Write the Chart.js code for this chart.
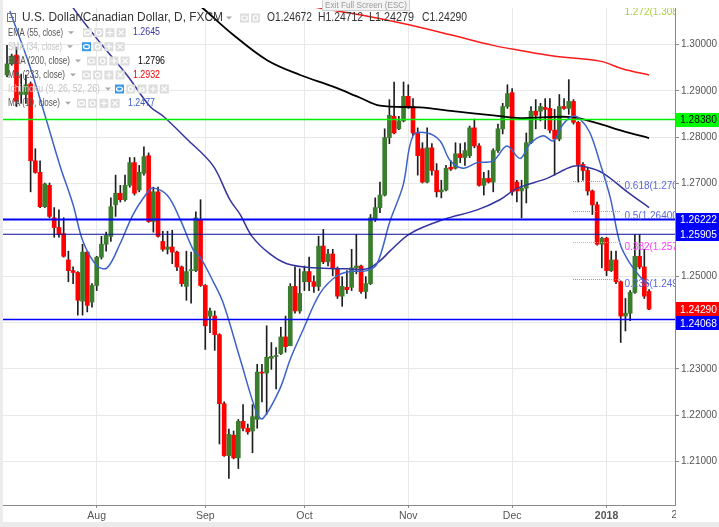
<!DOCTYPE html>
<html>
<head>
<meta charset="utf-8">
<script src="https://cdn.jsdelivr.net/npm/chart.js@4.4.1/dist/chart.umd.min.js"></script>
<style>
  html, body { margin: 0; padding: 0; background: #fff; }
  canvas { display: block; }
</style>
</head>
<body>
<canvas id="chart" width="719" height="527"></canvas>
<script>
// USD/CAD daily candles, 5 Jul 2017 .. 12 Jan 2018 (x = bar number)
const opens = [
  1.2934, 1.2958, 1.2977, 1.2892, 1.2892, 1.2915, 1.2749, 1.2724, 1.2650, 1.2696,
  1.2626, 1.2605, 1.2592, 1.2535, 1.2512, 1.2508, 1.2446, 1.2552, 1.2444, 1.2480,
  1.2541, 1.2569, 1.2586, 1.2654, 1.2679, 1.2665, 1.2696, 1.2745, 1.2686, 1.2722,
  1.2760, 1.2618, 1.2682, 1.2575, 1.2558, 1.2563, 1.2552, 1.2520, 1.2478, 1.2512,
  1.2512, 1.2622, 1.2480, 1.2414, 1.2414, 1.2374, 1.2225, 1.2113, 1.2157, 1.2108,
  1.2187, 1.2172, 1.2166, 1.2191, 1.2293, 1.2291, 1.2323, 1.2327, 1.2333, 1.2369,
  1.2350, 1.2478, 1.2425, 1.2488, 1.2510, 1.2488, 1.2478, 1.2565, 1.2531, 1.2548,
  1.2516, 1.2457, 1.2476, 1.2476, 1.2518, 1.2522, 1.2467, 1.2484, 1.2622, 1.2648,
  1.2675, 1.2799, 1.2845, 1.2818, 1.2835, 1.2888, 1.2866, 1.2809, 1.2775, 1.2703,
  1.2777, 1.2728, 1.2682, 1.2686, 1.2735, 1.2733, 1.2764, 1.2756, 1.2760, 1.2820,
  1.2781, 1.2696, 1.2711, 1.2703, 1.2771, 1.2818, 1.2866, 1.2896, 1.2703, 1.2684,
  1.2690, 1.2788, 1.2856, 1.2856, 1.2864, 1.2862, 1.2815, 1.2796, 1.2866, 1.2862,
  1.2877, 1.2832, 1.2741, 1.2728, 1.2684, 1.2654, 1.2569, 1.2582, 1.2512, 1.2535,
  1.2488, 1.2414, 1.2420, 1.2465, 1.2543, 1.2520, 1.24672
];
const highs = [
  1.2998, 1.2979, 1.2994, 1.2936, 1.2934, 1.2919, 1.2775, 1.2749, 1.2701, 1.2701,
  1.2648, 1.2643, 1.2626, 1.2554, 1.2520, 1.2510, 1.2569, 1.2554, 1.2484, 1.2543,
  1.2586, 1.2595, 1.2669, 1.2718, 1.2696, 1.2718, 1.2756, 1.2756, 1.2739, 1.2779,
  1.2766, 1.2692, 1.2692, 1.2597, 1.2597, 1.2599, 1.2554, 1.2522, 1.2554, 1.2552,
  1.2639, 1.2665, 1.2482, 1.2431, 1.2425, 1.2376, 1.2229, 1.2170, 1.2166, 1.2191,
  1.2223, 1.2181, 1.2223, 1.2310, 1.2310, 1.2393, 1.2357, 1.2346, 1.2390, 1.2414,
  1.2484, 1.2520, 1.2516, 1.2522, 1.2541, 1.2501, 1.2586, 1.2601, 1.2558, 1.2558,
  1.2520, 1.2499, 1.2512, 1.2558, 1.2590, 1.2524, 1.2499, 1.2633, 1.2669, 1.2703,
  1.2818, 1.2881, 1.2919, 1.2845, 1.2919, 1.2913, 1.2883, 1.2820, 1.2788, 1.2820,
  1.2786, 1.2743, 1.2707, 1.2739, 1.2749, 1.2788, 1.2786, 1.2788, 1.2824, 1.2839,
  1.2786, 1.2724, 1.2728, 1.2775, 1.2828, 1.2873, 1.2913, 1.2905, 1.2707, 1.2707,
  1.2809, 1.2866, 1.2881, 1.2873, 1.2883, 1.2883, 1.2860, 1.2892, 1.2883, 1.2924,
  1.2881, 1.2834, 1.2745, 1.2735, 1.2686, 1.2660, 1.2584, 1.2584, 1.2554, 1.2554,
  1.2490, 1.2452, 1.2469, 1.2590, 1.2590, 1.2558, 1.24712
];
const lows = [
  1.2930, 1.2955, 1.2866, 1.2873, 1.2873, 1.2682, 1.2722, 1.2648, 1.2648, 1.2626,
  1.2584, 1.2584, 1.2541, 1.2488, 1.2484, 1.2416, 1.2416, 1.2423, 1.2433, 1.2469,
  1.2537, 1.2554, 1.2575, 1.2629, 1.2660, 1.2662, 1.2692, 1.2675, 1.2682, 1.2718,
  1.2616, 1.2595, 1.2584, 1.2554, 1.2548, 1.2527, 1.2512, 1.2478, 1.2448, 1.2442,
  1.2510, 1.2478, 1.2342, 1.2378, 1.2340, 1.2138, 1.2111, 1.2064, 1.2106, 1.2085,
  1.2166, 1.2159, 1.2119, 1.2172, 1.2229, 1.2202, 1.2299, 1.2257, 1.2331, 1.2336,
  1.2350, 1.2420, 1.2420, 1.2469, 1.2469, 1.2465, 1.2469, 1.2527, 1.2522, 1.2501,
  1.2452, 1.2435, 1.2463, 1.2469, 1.2505, 1.2463, 1.2452, 1.2482, 1.2618, 1.2637,
  1.2673, 1.2786, 1.2807, 1.2816, 1.2833, 1.2862, 1.2803, 1.2718, 1.2701, 1.2701,
  1.2718, 1.2671, 1.2669, 1.2684, 1.2728, 1.2731, 1.2745, 1.2739, 1.2756, 1.2777,
  1.2694, 1.2675, 1.2701, 1.2682, 1.2767, 1.2807, 1.2862, 1.2675, 1.2660, 1.2626,
  1.2658, 1.2786, 1.2818, 1.2835, 1.2818, 1.2809, 1.2718, 1.2792, 1.2860, 1.2849,
  1.2828, 1.2703, 1.2707, 1.2675, 1.2633, 1.2567, 1.2518, 1.2501, 1.2510, 1.2484,
  1.2357, 1.2382, 1.2404, 1.2463, 1.2516, 1.2452, 1.24279
];
const closes = [
  1.2958, 1.2975, 1.2877, 1.2898, 1.2913, 1.2749, 1.2724, 1.2650, 1.2699, 1.2629,
  1.2605, 1.2590, 1.2543, 1.2512, 1.2508, 1.2448, 1.2552, 1.2437, 1.2480, 1.2541,
  1.2569, 1.2588, 1.2650, 1.2679, 1.2665, 1.2696, 1.2745, 1.2679, 1.2724, 1.2758,
  1.2618, 1.2682, 1.2586, 1.2558, 1.2563, 1.2552, 1.2520, 1.2484, 1.2510, 1.2514,
  1.2626, 1.2480, 1.2393, 1.2425, 1.2374, 1.2225, 1.2113, 1.2159, 1.2108, 1.2187,
  1.2172, 1.2164, 1.2197, 1.2293, 1.2291, 1.2325, 1.2327, 1.2329, 1.2369, 1.2348,
  1.2478, 1.2425, 1.2463, 1.2510, 1.2488, 1.2478, 1.2565, 1.2531, 1.2548, 1.2516,
  1.2457, 1.2478, 1.2471, 1.2518, 1.2522, 1.2467, 1.2484, 1.2626, 1.2648, 1.2675,
  1.2799, 1.2847, 1.2809, 1.2835, 1.2888, 1.2866, 1.2809, 1.2760, 1.2703, 1.2777,
  1.2728, 1.2682, 1.2686, 1.2733, 1.2731, 1.2764, 1.2756, 1.2771, 1.2820, 1.2781,
  1.2696, 1.2711, 1.2703, 1.2771, 1.2818, 1.2866, 1.2894, 1.2682, 1.2684, 1.2690,
  1.2788, 1.2856, 1.2847, 1.2866, 1.2860, 1.2815, 1.2796, 1.2866, 1.2862, 1.2877,
  1.2832, 1.2741, 1.2728, 1.2684, 1.2654, 1.2569, 1.2582, 1.2512, 1.2535, 1.2488,
  1.2414, 1.2420, 1.2465, 1.2543, 1.2520, 1.2457, 1.24290
];

// indicator lines: [bar, value]
const ma10 = [
  [0.6, 1.3072], [4.9, 1.2951], [8.1, 1.2845], [11.2, 1.2739], [14, 1.2654], [16.1, 1.2575],
  [19.1, 1.2522], [21.2, 1.2518], [23.9, 1.2569], [26.7, 1.2633], [29.7, 1.2680], [30.9, 1.2690],
  [33.9, 1.2675], [36.7, 1.2622], [39.4, 1.2558], [40.9, 1.2541], [43.6, 1.2490], [45.8, 1.2442],
  [49.4, 1.2321], [53, 1.2202], [54.2, 1.2193], [57.8, 1.2257], [60, 1.2321], [62.7, 1.2384],
  [66.3, 1.2463], [69.9, 1.2501], [72.7, 1.2510], [76.3, 1.2512], [78.4, 1.2527], [81.1, 1.2618],
  [83.9, 1.2696], [86, 1.2803], [89, 1.2809], [91.7, 1.2792], [93.9, 1.2749], [96.6, 1.2733],
  [99.6, 1.2745], [103, 1.2749], [105.9, 1.2781], [108.7, 1.2754], [110.8, 1.2786], [113.6, 1.2803],
  [115.7, 1.2792], [117.8, 1.2828], [119.9, 1.2845], [121.4, 1.2839], [123.5, 1.2809], [125.6, 1.2745],
  [127.8, 1.2669], [129.9, 1.2569], [132, 1.2527], [134.1, 1.2499], [136, 1.2482]
];
const ema55 = [
  [12.9, 1.3100], [14, 1.3079], [19.7, 1.3004], [25.4, 1.2934], [30.3, 1.2866], [33.1, 1.2845],
  [38.1, 1.2796], [43.6, 1.2739], [47.2, 1.2665], [49.4, 1.2633], [51.9, 1.2586], [55.7, 1.2548],
  [59.3, 1.2527], [64.8, 1.2518], [72, 1.2516], [76.3, 1.2516], [79, 1.2533], [81.1, 1.2554],
  [85.4, 1.2592], [92.4, 1.2622], [99.6, 1.2643], [104.4, 1.2665], [108.1, 1.2690], [114.4, 1.2711],
  [119.9, 1.2737], [122.9, 1.2735], [126.3, 1.2722], [131.4, 1.2682], [136, 1.2648]
];
const ema200 = [
  [40.9, 1.3083], [42.4, 1.3070], [47.9, 1.3021], [55.1, 1.2966], [62.1, 1.2934], [69.1, 1.2909],
  [74.8, 1.2885], [79, 1.2868], [87.5, 1.2864], [94.5, 1.2856], [103, 1.2847], [108.7, 1.2841],
  [114.4, 1.2843], [119.9, 1.2843], [125, 1.2830], [130.5, 1.2813], [136, 1.2798]
];
const ma233 = [
  [64, 1.3085], [65.9, 1.3079], [74.8, 1.3064], [83.9, 1.3045], [93.9, 1.3021], [103, 1.2998],
  [108.7, 1.2987], [115.7, 1.2975], [125.6, 1.2964], [130.5, 1.2947], [136, 1.2934]
];

// horizontal levels and fibonacci retracement
const levels = [1.28380, 1.26222, 1.25905, 1.24068];
const fibLevels = [1.2493, 1.2574, 1.2640, 1.2706, 1.3081];
const fibLabels = ['0.236(1.24930)', '0.382(1.25740)', '0.5(1.26400)', '0.618(1.27060)', '1.272(1.30810)'];

// axes
const monthTicks = [19, 42, 63, 85, 107, 127, 142];
const monthLabels = ['Aug', 'Sep', 'Oct', 'Nov', 'Dec', '2018', '22'];
const yTicks = [1.21, 1.22, 1.23, 1.24, 1.25, 1.26, 1.27, 1.28, 1.29, 1.30];

const FONT = 'Arial, "Liberation Sans", sans-serif';
const X_MIN = -0.85, X_MAX = 141.5;

function lineSet(points, color, width) {
  return {
    type: 'line',
    data: points.map(p => ({ x: p[0], y: p[1] })),
    borderColor: color,
    borderWidth: width,
    pointRadius: 0,
    tension: 0.35,
    fill: false
  };
}

const levelStyle = [
  { color: '#00ee00', width: 1.5 },
  { color: '#0000ff', width: 2 },
  { color: '#0c0c9a', width: 1 },
  { color: '#0000ff', width: 1.5 }
];
const levelSets = levels.map((v, i) => ({
  type: 'line',
  data: [{ x: X_MIN, y: v }, { x: X_MAX, y: v }],
  borderColor: levelStyle[i].color,
  borderWidth: levelStyle[i].width,
  pointRadius: 0
}));

const bars = opens.map((_, i) => i);
const isUp = bars.map(i => closes[i] >= opens[i]);

function iconBox(c, x, y, kind, blue) {
  c.fillStyle = blue ? '#3d9be3' : '#dddddd';
  c.fillRect(x, y - 4.5, 9, 9);
  c.strokeStyle = '#fff';
  c.lineWidth = 1.2;
  c.beginPath();
  if (kind === 'eye') c.ellipse(x + 4.5, y, 3, 2, 0, 0, Math.PI * 2);
  else if (kind === 'gear') c.arc(x + 4.5, y, 2.3, 0, Math.PI * 2);
  else if (kind === 'plus') { c.moveTo(x + 4.5, y - 3); c.lineTo(x + 4.5, y + 3); c.moveTo(x + 1.5, y); c.lineTo(x + 7.5, y); }
  else if (kind === 'x') { c.moveTo(x + 2, y - 2.5); c.lineTo(x + 7, y + 2.5); c.moveTo(x + 7, y - 2.5); c.lineTo(x + 2, y + 2.5); }
  else if (kind === 'lock') c.rect(x + 2.5, y - 1, 4, 3);
  c.stroke();
}

function arrow(c, x, y) {
  c.fillStyle = '#aaa';
  c.beginPath();
  c.moveTo(x, y - 1.5); c.lineTo(x + 6, y - 1.5); c.lineTo(x + 3, y + 1.5);
  c.closePath();
  c.fill();
}

const overlay = {
  id: 'overlay',
  beforeDraw(chart) {
    const c = chart.ctx;
    c.save();
    c.fillStyle = '#fff';
    c.fillRect(0, 0, chart.width, chart.height);
    c.restore();
  },
  afterDatasetsDraw(chart) {
    const { ctx: c, chartArea: a, scales: { x, y } } = chart;
    c.save();
    c.beginPath();
    c.rect(a.left, a.top, a.right - a.left, a.bottom - a.top);
    c.clip();
    fibLevels.forEach((v, i) => {
      const py = Math.round(y.getPixelForValue(v)) + 0.5;
      const pink = i === 1;
      if (i < 4) {
        c.strokeStyle = pink ? '#ff88ff' : '#8591ee';
        c.lineWidth = 1;
        c.setLineDash([1, 1]);
        c.beginPath();
        c.moveTo(x.getPixelForValue(119.9), py);
        c.lineTo(x.getPixelForValue(130), py);
        c.stroke();
        c.setLineDash([]);
      }
      c.fillStyle = i === 4 ? '#a8d040' : (pink ? '#ff40ff' : '#5a68d8');
      c.font = '10px ' + FONT;
      c.textBaseline = 'middle';
      c.textAlign = 'left';
      c.fillText(fibLabels[i], x.getPixelForValue(130.8), py + 5);
    });
    c.restore();
  },
  afterDraw(chart) {
    const { ctx: c, chartArea: a, scales: { x, y } } = chart;
    c.save();
    c.textBaseline = 'middle';
    c.textAlign = 'left';

    // month labels past the right edge, cut by the price axis
    c.save();
    c.beginPath();
    c.rect(0, a.bottom, a.right + 1, 22);
    c.clip();
    c.fillStyle = '#555';
    c.font = '10.5px ' + FONT;
    c.textAlign = 'center';
    c.textBaseline = 'top';
    monthTicks.forEach((v, i) => {
      if (v > X_MAX) c.fillText(monthLabels[i], x.getPixelForValue(v), a.bottom + 5);
    });
    c.restore();

    // price labels on the axis
    const boxes = [
      { v: levels[0], bg: '#00ff00', fg: '#000' },
      { v: levels[1], bg: '#0000ff', fg: '#fff' },
      { v: levels[2], bg: '#0000ff', fg: '#fff' },
      { v: closes[closes.length - 1], bg: '#ff0000', fg: '#fff' },
      { v: levels[3], bg: '#0000ff', fg: '#fff' }
    ].map(b => ({ ...b, py: y.getPixelForValue(b.v) })).sort((p, q) => p.py - q.py);
    let prev = -100;
    boxes.forEach(b => {
      if (b.py < prev + 14) b.py = prev + 14;
      prev = b.py;
      c.fillStyle = b.bg;
      c.fillRect(676, Math.round(b.py - 7), 43, 14);
      c.fillStyle = b.fg;
      c.font = '10.5px ' + FONT;
      c.fillText(b.v.toFixed(5), 680, b.py + 0.5, 37);
    });

    // gray frame strips
    c.fillStyle = '#ebebeb';
    c.fillRect(0, 522, chart.width, 5);
    c.fillRect(0, 0, 3, 522);

    // exit full screen hint
    c.fillStyle = '#f4f4f4';
    c.fillRect(322, -1, 88, 12);
    c.strokeStyle = '#d0d0d0';
    c.lineWidth = 1;
    c.strokeRect(322.5, -0.5, 87, 11);
    c.fillStyle = '#9a9a9a';
    c.font = '9px ' + FONT;
    c.fillText('Exit Full Screen (ESC)', 325, 5.5, 82);

    // title row
    c.strokeStyle = '#777';
    c.strokeRect(7.5, 13.5, 8, 8);
    c.beginPath(); c.moveTo(9, 17.5); c.lineTo(14, 17.5); c.stroke();
    c.fillStyle = '#333';
    c.font = '12px ' + FONT;
    c.fillText('U.S. Dollar/Canadian Dollar, D, FXCM', 22, 18, 201);
    arrow(c, 226, 18);
    iconBox(c, 240, 18, 'eye', false);
    iconBox(c, 251, 18, 'gear', false);
    c.fillStyle = '#333';
    c.fillText('O1.24672', 267, 18, 45);
    c.fillText('H1.24712', 318, 18, 45);
    c.fillText('L1.24279', 369, 18, 45);
    c.fillText('C1.24290', 422, 18, 45);

    // indicator legend
    const rows = [
      { y: 32.7, name: 'EMA (55, close)', w: 55, faded: false, ix: 83, icons: ['eye', 'gear', 'plus', 'x'], val: '1.2645', vc: '#3a3aae', vx: 133 },
      { y: 46.7, name: 'SMA (34, close)', w: 54, faded: true, ix: 82, icons: ['eye', 'gear', 'plus', 'x'], eye: true },
      { y: 61, name: 'EMA (200, close)', w: 62, faded: false, ix: 87, icons: ['eye', 'gear', 'plus', 'x'], val: '1.2796', vc: '#000', vx: 138 },
      { y: 75, name: 'MA (233, close)', w: 57, faded: false, ix: 82, icons: ['eye', 'gear', 'plus', 'x'], val: '1.2932', vc: '#ff0000', vx: 133 },
      { y: 89, name: 'Ichimoku (9, 26, 52, 26)', w: 92, faded: true, ix: 115, icons: ['eye', 'gear', 'lock', 'plus', 'x'], eye: true },
      { y: 103.3, name: 'MA (10, close)', w: 52, faded: false, ix: 77, icons: ['eye', 'gear', 'plus', 'x'], val: '1.2477', vc: '#3d5fc4', vx: 128 }
    ];
    rows.forEach(r => {
      c.font = '10.5px ' + FONT;
      c.fillStyle = r.faded ? '#c4c4c4' : '#555';
      c.fillText(r.name, 8, r.y, r.w);
      arrow(c, 8 + r.w + 5, r.y);
      r.icons.forEach((k, j) => iconBox(c, r.ix + j * 11.2, r.y, k, r.eye && j === 0));
      if (r.val) {
        c.fillStyle = r.vc;
        c.font = '10px ' + FONT;
        c.fillText(r.val, r.vx, r.y, 27);
      }
    });
    c.restore();
  }
};

new Chart(document.getElementById('chart').getContext('2d'), {
  type: 'bar',
  data: {
    datasets: [
      ...levelSets,
      lineSet(ma10, '#3d62c8', 1.5),
      lineSet(ema55, '#34349e', 1.5),
      lineSet(ema200, '#000000', 1.8),
      lineSet(ma233, '#ff1a1a', 1.5),
      {
        type: 'bar',
        data: bars.map(i => ({ x: i, y: [opens[i], closes[i]] })),
        backgroundColor: isUp.map(u => u ? '#3a7d2c' : '#ff0000'),
        barThickness: 4,
        minBarLength: 1,
        grouped: false
      },
      {
        type: 'bar',
        data: bars.map(i => ({ x: i, y: [lows[i], highs[i]] })),
        backgroundColor: '#1e1e1e',
        barThickness: 1,
        grouped: false
      }
    ]
  },
  options: {
    responsive: false,
    animation: false,
    events: [],
    layout: { padding: { left: 3, top: 0, right: 0, bottom: 0 } },
    plugins: { legend: { display: false }, tooltip: { enabled: false } },
    scales: {
      x: {
        type: 'linear',
        min: X_MIN,
        max: X_MAX,
        offset: false,
        afterBuildTicks: s => { s.ticks = monthTicks.filter(v => v <= X_MAX).map(v => ({ value: v })); },
        afterFit: s => { s.height = 22; },
        ticks: {
          autoSkip: false,
          maxRotation: 0,
          padding: 2,
          color: '#555',
          font: ctx => ({ family: FONT, size: 10.5, weight: ctx.index === 5 ? 'bold' : 'normal' }),
          callback: (v, i) => monthLabels[i]
        },
        grid: { color: '#e8e8e8', tickColor: '#888', tickLength: 3, offset: false },
        border: { color: '#888' }
      },
      y: {
        position: 'right',
        min: 1.20064,
        max: 1.30786,
        beginAtZero: false,
        afterBuildTicks: s => { s.ticks = yTicks.map(v => ({ value: v })); },
        afterFit: s => { s.width = 44; },
        ticks: {
          padding: 2,
          color: '#555',
          font: { family: FONT, size: 10 },
          callback: v => v.toFixed(5)
        },
        grid: { color: '#e8e8e8', tickColor: '#888', tickLength: 4 },
        border: { color: '#888' }
      }
    }
  },
  plugins: [overlay]
});
</script>
</body>
</html>
